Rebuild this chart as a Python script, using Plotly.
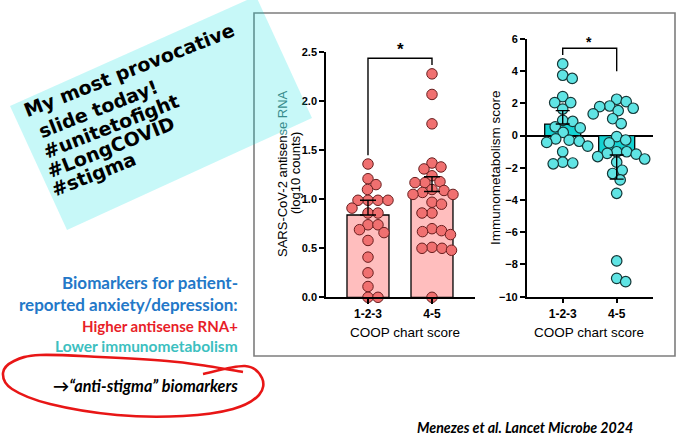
import numpy as np
import plotly.graph_objects as go

W, H = 680, 444

categories = ["1-2-3", "4-5"]

# Left panel: SARS-CoV-2 antisense RNA (log10 counts)
rna_123 = [1.36, 1.21, 1.15, 1.10, 0.99, 0.99, 0.99, 0.99, 0.91, 0.86, 0.86,
           0.74, 0.74, 0.69, 0.66, 0.58, 0.41, 0.25, 0.11, 0.0, 0.0]
rna_45 = [2.28, 2.07, 1.77, 1.37, 1.33, 1.31, 1.24, 1.18, 1.17, 1.17, 1.10,
          1.09, 1.07, 1.05, 1.05, 0.97, 0.95, 0.86, 0.86, 0.70, 0.68, 0.67,
          0.64, 0.51, 0.50, 0.50, 0.48, 0.0]
rna_mean = [0.84, 1.08]
rna_sem = [0.15, 0.15]
rna_ticks = [0.0, 0.5, 1.0, 1.5, 2.0, 2.5]

# Right panel: Immunometabolism score
imm_123 = [4.45, 3.75, 3.55, 2.42, 2.05, 2.05, 1.65, 0.95, 0.88, 0.55, 0.48,
           0.20, -0.20, -0.28, -0.35, -0.42, -0.65, -1.00, -1.65, -1.75, -1.70]
imm_45 = [2.26, 2.11, 1.84, 1.80, 1.70, 1.55, 1.35, 1.05, 0.75, -0.06, -0.27,
          -0.45, -1.00, -1.00, -1.10, -1.15, -1.30, -1.45, -1.65, -2.15, -2.35,
          -2.75, -3.58, -7.78, -8.86, -9.07]
imm_mean = [0.72, -1.20]
imm_sem = [0.83, 1.50]
imm_ticks = [-10, -8, -6, -4, -2, 0, 2, 4, 6]

# ---------- geometry (pixels) ----------
def PX(x):
    return x / W

def PY(y):
    return 1 - y / H

L_XPX, L_YPX = (326, 475), (52.3, 297.3)
R_XPX, R_YPX = (526.7, 652.7), (39.0, 296.7)
L_XR, L_YR = [-0.656, 1.672], [0, 2.5]
R_XR, R_YR = [-0.667, 1.667], [-10, 6]

def ppu(pxr, rng):
    return (pxr[1] - pxr[0]) / (rng[1] - rng[0])

def swarm(values, px_y, px_x, diam=9.6):
    vals = np.asarray(values, dtype=float)
    order = np.argsort(-vals, kind="stable")
    placed = []
    offs = np.zeros(len(vals))
    for i in order:
        y = vals[i] * px_y
        found = None
        step = 0
        while found is None:
            cands = [0.0] if step == 0 else [step * 0.5, -step * 0.5]
            for x in cands:
                if all((x - a) ** 2 + (y - b) ** 2 >= diam ** 2 for a, b in placed):
                    found = x
                    break
            step += 1
        placed.append((found, y))
        offs[i] = found / px_x
    return offs

lpx_x, lpx_y = ppu(L_XPX, L_XR), ppu(L_YPX, L_YR)
rpx_x, rpx_y = ppu(R_XPX, R_XR), ppu(R_YPX, R_YR)

fig = go.Figure()

RED_BAR = "rgb(255,190,190)"
RED_PT = "rgb(240,112,112)"
RED_EDGE = "rgb(105,30,30)"
CY_BAR = "rgb(20,210,210)"
CY_PT = "rgb(95,228,228)"
CY_EDGE = "rgb(20,55,55)"

# Left bars
fig.add_trace(go.Bar(x=[0, 1], y=rna_mean, width=0.656, xaxis="x", yaxis="y",
                     marker=dict(color=RED_BAR, line=dict(color="black", width=1.3)),
                     showlegend=False, hoverinfo="skip"))
for gi, vals in enumerate([rna_123, rna_45]):
    offs = swarm(vals, lpx_y, lpx_x)
    fig.add_trace(go.Scatter(x=gi + offs, y=vals, mode="markers", xaxis="x", yaxis="y",
                             cliponaxis=False, showlegend=False,
                             marker=dict(size=10.5, color=RED_PT, line=dict(color=RED_EDGE, width=1))))
fig.add_trace(go.Scatter(x=[0, 1], y=rna_mean, mode="markers", xaxis="x", yaxis="y",
                         marker=dict(size=1, color="rgba(0,0,0,0)"), showlegend=False,
                         error_y=dict(type="data", symmetric=False,
                                      array=[s if m >= 0 else 0 for m, s in zip(rna_mean, rna_sem)],
                                      arrayminus=[0 if m >= 0 else s for m, s in zip(rna_mean, rna_sem)],
                                      color="black", thickness=1.4, width=8)))

# Right bars
fig.add_trace(go.Bar(x=[0, 1], y=imm_mean, width=0.667, xaxis="x2", yaxis="y2",
                     marker=dict(color=CY_BAR, line=dict(color="black", width=1.3)),
                     showlegend=False, hoverinfo="skip"))
for gi, vals in enumerate([imm_123, imm_45]):
    offs = swarm(vals, rpx_y, rpx_x)
    fig.add_trace(go.Scatter(x=gi + offs, y=vals, mode="markers", xaxis="x2", yaxis="y2",
                             cliponaxis=False, showlegend=False,
                             marker=dict(size=10.5, color=CY_PT, line=dict(color=CY_EDGE, width=1.2))))
fig.add_trace(go.Scatter(x=[0, 1], y=imm_mean, mode="markers", xaxis="x2", yaxis="y2",
                         marker=dict(size=1, color="rgba(0,0,0,0)"), showlegend=False,
                         error_y=dict(type="data", symmetric=False,
                                      array=[s if m >= 0 else 0 for m, s in zip(imm_mean, imm_sem)],
                                      arrayminus=[0 if m >= 0 else s for m, s in zip(imm_mean, imm_sem)],
                                      color="black", thickness=1.4, width=7)))

FONT = "Liberation Sans, Arial, sans-serif"
tickfont = dict(family=FONT, size=12, color="black", weight="bold")
ytickfont = dict(family=FONT, size=11, color="black", weight="bold")

def xax(domain, rng, anchor):
    return dict(domain=domain, range=rng, anchor=anchor, tickvals=[0, 1], ticktext=categories,
                ticks="outside", ticklen=5, tickwidth=1.5, tickcolor="black",
                showline=True, linecolor="black", linewidth=1.5, showgrid=False,
                zeroline=False, tickfont=tickfont, fixedrange=True)

def yax(domain, rng, anchor, tv, fmt, zl):
    return dict(domain=domain, range=rng, anchor=anchor, tickvals=tv, tickformat=fmt,
                ticks="outside", ticklen=5, tickwidth=1.5, tickcolor="black",
                showline=True, linecolor="black", linewidth=1.5, showgrid=False,
                zeroline=zl, zerolinecolor="black", zerolinewidth=1.6,
                tickfont=ytickfont, fixedrange=True)

fig.update_layout(
    width=W, height=H, template="none",
    margin=dict(l=0, r=0, t=0, b=0),
    paper_bgcolor="white", plot_bgcolor="rgba(0,0,0,0)",
    font=dict(family=FONT, color="black"),
    showlegend=False,
    xaxis=xax([PX(L_XPX[0]), PX(L_XPX[1])], L_XR, "y"),
    yaxis=yax([PY(L_YPX[1]), PY(L_YPX[0])], L_YR, "x", rna_ticks, ".1f", False),
    xaxis2=xax([PX(R_XPX[0]), PX(R_XPX[1])], R_XR, "y2"),
    yaxis2=yax([PY(R_YPX[1]), PY(R_YPX[0])], R_YR, "x2", imm_ticks, "d", True),
)

shapes = []
# chart box
shapes.append(dict(type="rect", xref="paper", yref="paper", x0=PX(254), x1=PX(675),
                   y0=PY(356), y1=PY(13), line=dict(color="rgb(125,125,125)", width=1.6),
                   fillcolor="rgba(0,0,0,0)", layer="below"))
# significance brackets
for (xr, yr, ytop, yl, yrgt) in [("x", "y", 2.44, 1.45, 2.37), ("x2", "y2", 5.43, 5.0, 4.0)]:
    shapes.append(dict(type="path", xref=xr, yref=yr,
                       path=f"M 0,{yl} L 0,{ytop} L 1,{ytop} L 1,{yrgt}",
                       line=dict(color="black", width=1.4)))

# cyan rotated note (semi-transparent overlay)
cy = [(10, 106), (256, -4), (312, 118), (67, 230)]
p = "M " + " L ".join(f"{PX(a):.5f},{PY(b):.5f}" for a, b in cy) + " Z"
shapes.append(dict(type="path", xref="paper", yref="paper", path=p,
                   fillcolor="rgba(0,225,225,0.22)", line=dict(width=0), layer="above"))

# red hand-drawn loop
loop = [(203, 374), (245, 366), (262, 378), (259, 395), (233, 409), (183, 416),
        (117, 415), (50, 404), (12, 389), (3, 373), (14, 361), (40, 355),
        (100, 357), (167, 361), (207, 366), (243, 372)]
pts = [loop[0]] + loop + [loop[-1]]
d = f"M {PX(loop[0][0]):.5f},{PY(loop[0][1]):.5f}"
for i in range(1, len(pts) - 2):
    p0, p1, p2, p3 = pts[i - 1], pts[i], pts[i + 1], pts[i + 2]
    c1 = (p1[0] + (p2[0] - p0[0]) / 6, p1[1] + (p2[1] - p0[1]) / 6)
    c2 = (p2[0] - (p3[0] - p1[0]) / 6, p2[1] - (p3[1] - p1[1]) / 6)
    d += (f" C {PX(c1[0]):.5f},{PY(c1[1]):.5f} {PX(c2[0]):.5f},{PY(c2[1]):.5f}"
          f" {PX(p2[0]):.5f},{PY(p2[1]):.5f}")
shapes.append(dict(type="path", xref="paper", yref="paper", path=d,
                   line=dict(color="rgb(232,22,22)", width=2.6), layer="above"))
fig.update_layout(shapes=shapes)

ann = []

def A(text, x, y, size, color="black", family=FONT, xanchor="center", angle=0, weight="normal",
      style="normal"):
    ann.append(dict(text=text, x=PX(x), y=PY(y), xref="paper", yref="paper", showarrow=False,
                    xanchor=xanchor, yanchor="middle", textangle=angle,
                    font=dict(size=size, color=color, family=family, weight=weight, style=style)))

# axis titles
A("SARS-CoV-2 antisen<span style='color:rgb(55,140,140)'>se RNA</span>", 282, 174, 13, angle=-90)
A("(log10 counts)", 295, 173, 13, angle=-90)
A("COOP chart score", 405, 332, 13.5)
A("Immunometabolism score", 495, 168, 13.5, angle=-90)
A("COOP chart score", 589, 332, 13.5)
# stars
A("*", 400, 50, 17, weight="bold")
A("*", 589, 42, 14, weight="bold")

# cyan note text
CF = "DejaVu Sans, sans-serif"
note = [("My most provocative", 129, 70), ("slide today!", 97.5, 109),
        ("#unitetofight", 111, 126), ("#LongCOVID", 110.6, 147), ("#stigma", 93.5, 174)]
for t, x, y in note:
    A(t, x, y, 19, family=CF, angle=-21.5, weight="bold")

# left side text
LF = "Lato, sans-serif"
A("Biomarkers for patient-", 240, 282, 17, color="rgb(35,120,200)", family=LF, xanchor="right", weight="bold")
A("reported anxiety/depression:", 240, 304, 17, color="rgb(35,120,200)", family=LF, xanchor="right", weight="bold")
A("Higher antisense RNA+", 240, 326, 15, color="rgb(232,30,40)", family=LF, xanchor="right", weight="bold")
A("Lower immunometabolism", 240, 346, 15.5, color="rgb(60,192,192)", family=LF, xanchor="right", weight="bold")
A("\u2192\u201canti-stigma\u201d biomarkers", 240, 385, 16.2, family=LF, xanchor="right", weight="bold", style="italic")
A("Menezes et al. Lancet Microbe 2024", 525, 427, 14.2, family=LF, weight="bold", style="italic")

fig.update_layout(annotations=ann)

fig.write_html("out.html", config={"displayModeBar": False},
               post_script="document.body.style.margin='0';document.body.style.overflow='hidden';")
